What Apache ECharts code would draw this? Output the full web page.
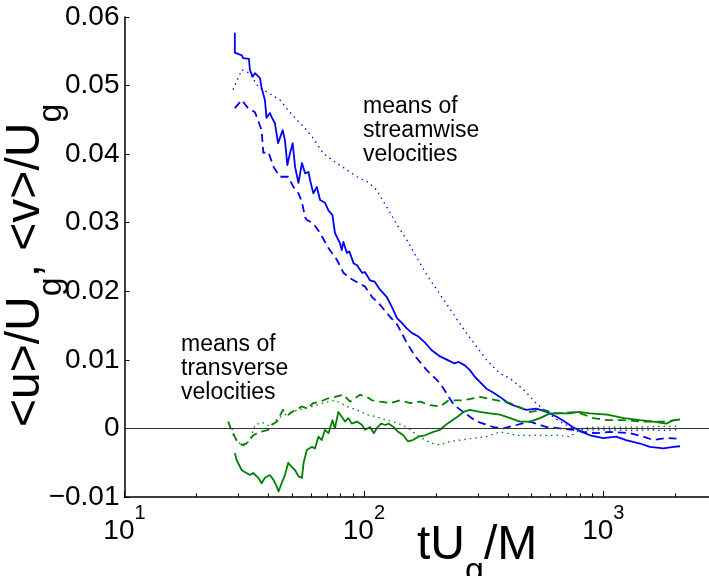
<!DOCTYPE html>
<html>
<head>
<meta charset="utf-8">
<script src="https://cdn.jsdelivr.net/npm/echarts@6/dist/echarts.min.js"></script>
<style>
  html, body { margin: 0; padding: 0; background: #fff; }
  #chart { width: 709px; height: 576px; }
</style>
</head>
<body>
<div id="chart"></div>
<script>
// Mean streamwise (blue) and transverse (green) velocities vs. tU_g/M
// solid / dashed / dotted = three runs

const tBlueSolid = [28.9,28.9,30.9,31.3,33.1,33.4,34.3,35.1,36.8,37.4,38.6,39.2,40.5,41.2,42.5,43.8,45.8,46.8,47.9,49.1,50.4,51.6,53.3,55.1,56.8,58.7,59.6,61.5,63.6,65.6,68.8,71.1,73.9,75.7,79.5,80.8,82.1,84.9,87.0,90.5,93.6,98.2,101,106,111,117,124.5,131,137.5,144,151,159,169,180,192,208,223,238,249,264,277,291,305,325,348,370,400,434,477,524,580,639,689,745,813,880,1000,1133,1245,1423,1567,1785,1963,2091];
const vBlueSolid = [0.0577,0.0548,0.0544,0.0540,0.0539,0.0523,0.0513,0.0518,0.0511,0.0496,0.0479,0.0453,0.0460,0.0454,0.0445,0.0416,0.0435,0.0420,0.0384,0.0401,0.0416,0.0381,0.0358,0.0387,0.0372,0.0374,0.0362,0.0343,0.0352,0.0333,0.0329,0.0318,0.0311,0.0285,0.0270,0.0260,0.0272,0.0256,0.0258,0.0241,0.0238,0.0227,0.0228,0.0216,0.0214,0.0202,0.0192,0.0177,0.0161,0.0154,0.0146,0.0139,0.0134,0.0125,0.0114,0.0105,0.0100,0.0095,0.0097,0.0092,0.0085,0.0075,0.0068,0.0058,0.0052,0.0046,0.0037,0.0032,0.0027,0.0029,0.0024,0.0017,0.0010,0.0002,-0.0005,-0.0010,-0.0014,-0.0012,-0.0017,-0.0022,-0.0027,-0.0029,-0.0027,-0.0026];

const tBlueDashed = [28.9,30.9,32.8,34.0,35.1,37.4,38.0,39.9,42.0,44.6,48.3,50.8,53.3,55.1,56.8,57.8,61.5,65.6,71.1,77.1,82.1,87.5,94.8,101,108,117,127,138,151,164,183,208,226,238,277,296,315,348,383,434,494,580,659,745,823,938,1067,1293,1470,1618,1835,2020];
const vBlueDashed = [0.0467,0.0479,0.0467,0.0464,0.0461,0.0435,0.0402,0.0403,0.0381,0.0367,0.0367,0.0352,0.0343,0.0330,0.0308,0.0304,0.0299,0.0285,0.0263,0.0246,0.0227,0.0219,0.0212,0.0207,0.0192,0.0180,0.0165,0.0151,0.0125,0.0105,0.0085,0.0066,0.0046,0.0034,0.0017,0.0010,0.0007,0.0002,0.0000,0.0005,0.0010,0.0002,0.0000,-0.0002,-0.0005,-0.0007,-0.0005,-0.0007,-0.0012,-0.0017,-0.0014,-0.0015];

const tBlueDotted = [28.4,29.4,30.9,33.4,36.2,39.2,44.6,48.3,52.4,56.0,61.5,67.7,74.0,84.9,93.6,103,113,124.5,137.5,151,167,183,202,223,246,268,296,325,370,408,466,524,599,659,726,823,938,1067,1180,1300,1567,1785,2020];
const vBlueDotted = [0.0494,0.0506,0.0523,0.0518,0.0498,0.0491,0.0479,0.0464,0.0450,0.0440,0.0423,0.0401,0.0391,0.0377,0.0367,0.0360,0.0348,0.0323,0.0297,0.0275,0.0248,0.0224,0.0202,0.0180,0.0158,0.0139,0.0119,0.0100,0.0080,0.0073,0.0056,0.0037,0.0020,0.0010,0.0002,-0.0002,-0.0002,-0.0002,-0.0002,-0.0003,-0.0002,-0.0003,-0.0002];

const tGreenSolid = [28.9,29.4,30.9,32.3,33.4,34.5,36.2,37.4,38.6,40.5,41.9,43.3,44.0,45.3,46.8,48.3,49.9,51.6,53.3,55.1,56.0,57.8,60.6,62.5,64.6,66.7,68.8,71.1,73.9,75.7,78.2,80.8,83.4,86.1,88.9,93.6,98.2,101,106,110,113,118,123,127,133,139,146,153,160,169,180,195,208,223,246,261,277,305,336,370,408,449,494,544,599,659,726,787,880,1038,1220,1423,1618,1835,1963,2091];
const vGreenSolid = [-0.0036,-0.0046,-0.0061,-0.0065,-0.0068,-0.0065,-0.0072,-0.0080,-0.0072,-0.0068,-0.0075,-0.0085,-0.0092,-0.0080,-0.0068,-0.0050,-0.0056,-0.0061,-0.0070,-0.0072,-0.0050,-0.0031,-0.0027,-0.0029,-0.0012,-0.0017,-0.0002,-0.0007,0.0012,0.0000,0.0024,0.0017,0.0010,0.0015,0.0007,0.0010,0.0005,-0.0002,0.0002,-0.0007,0.0000,0.0007,0.0005,0.0007,0.0002,-0.0005,-0.0010,-0.0019,-0.0017,-0.0012,-0.0010,-0.0005,-0.0002,0.0007,0.0017,0.0024,0.0027,0.0024,0.0022,0.0020,0.0015,0.0010,0.0010,0.0015,0.0022,0.0022,0.0022,0.0024,0.0022,0.0020,0.0015,0.0012,0.0010,0.0007,0.0012,0.0013];

const tGreenDashed = [27.1,28.1,29.4,30.9,32.3,34.5,36.8,39.9,41.2,43.3,45.9,48.3,51.6,55.1,57.8,61.5,65.6,71.1,75.7,82.1,87.5,96.3,103,108,117,129,142,156,172,189,208,226,261,305,360,408,494,561,639,773,908,1038,1220,1470,1785,2020];
const vGreenDashed = [0.0010,-0.0005,-0.0017,-0.0024,-0.0022,-0.0010,-0.0005,-0.0002,0.0005,0.0010,0.0027,0.0020,0.0027,0.0032,0.0029,0.0037,0.0039,0.0044,0.0046,0.0049,0.0039,0.0049,0.0046,0.0041,0.0039,0.0037,0.0041,0.0037,0.0039,0.0034,0.0032,0.0041,0.0041,0.0046,0.0041,0.0037,0.0024,0.0027,0.0022,0.0024,0.0015,0.0012,0.0012,0.0010,0.0010,0.0012];

const tGreenDotted = [28.1,29.2,31.3,33.4,35.1,37.6,40.5,43.8,48.2,53.1,59.6,67.0,75.7,84.9,93.6,103,113,124.5,137.5,151,167,189,208,229,277,325,370,434,524,639,726,823,969,1174,1423,1725,2040];
const vGreenDotted = [0.0000,-0.0017,-0.0026,-0.0017,0.0005,0.0009,0.0003,0.0015,0.0022,0.0027,0.0031,0.0037,0.0041,0.0032,0.0027,0.0020,0.0017,0.0012,0.0008,0.0002,-0.0010,-0.0021,-0.0024,-0.0019,-0.0015,-0.0012,-0.0005,-0.0010,-0.0010,-0.0010,-0.0012,0.0001,0.0002,0.0002,0.0002,0.0003,0.0003];

// axis ticks
const xMajorTicks = [10, 100, 1000];
const xMinorTicks = [20,30,40,50,60,70,80,90,200,300,400,500,600,700,800,900,2000];
const yTicks = [-0.01, 0, 0.01, 0.02, 0.03, 0.04, 0.05, 0.06];

const FONT = '"Liberation Sans", Arial, Helvetica, sans-serif';
const BLUE = '#0000ff';
const GREEN = '#008000';
const PLOT_H = 480;

function pairs(t, v) { return t.map((x, i) => [x, v[i]]); }

function lineSeries(name, t, v, color, dash, width) {
  return {
    name, type: 'line', data: pairs(t, v),
    showSymbol: false, symbol: 'none', smooth: false, silent: true,
    lineStyle: { color, width, type: dash, cap: 'butt', join: 'round' },
    animation: false, z: 3
  };
}

const chart = echarts.init(document.getElementById('chart'), null, { renderer: 'canvas' });

const series = [
  lineSeries('u solid', tBlueSolid, vBlueSolid, BLUE, 'solid', 1.8),
  lineSeries('u dashed', tBlueDashed, vBlueDashed, BLUE, [8, 5], 1.8),
  lineSeries('u dotted', tBlueDotted, vBlueDotted, BLUE, [1.5, 4], 1.3),
  lineSeries('v solid', tGreenSolid, vGreenSolid, GREEN, 'solid', 1.8),
  lineSeries('v dashed', tGreenDashed, vGreenDashed, GREEN, [8, 5], 1.8),
  lineSeries('v dotted', tGreenDotted, vGreenDotted, GREEN, [1.5, 4], 1.3)
];

// horizontal zero reference line
series[0].markLine = {
  silent: true, symbol: ['none', 'none'], animation: false,
  label: { show: false },
  lineStyle: { color: '#333', width: 1, type: 'solid' },
  data: [{ yAxis: 0 }]
};

// tick label "10" with the exponent raised
const supRich = {
  b: { fontFamily: FONT, fontSize: 28, color: '#000', lineHeight: 30, verticalAlign: 'bottom' },
  s: { fontFamily: FONT, fontSize: 20, color: '#000', lineHeight: 20, padding: [0, 0, 22, 0], verticalAlign: 'bottom' }
};

// axis titles: 48px body with a lowered "g"
const titleRich = {
  a: { fontFamily: FONT, fontSize: 48, color: '#000', lineHeight: 50, verticalAlign: 'top' },
  s: { fontFamily: FONT, fontSize: 34, color: '#000', lineHeight: 34, padding: [33, 0, 0, 0], verticalAlign: 'top' }
};

chart.setOption({
  animation: false,
  backgroundColor: '#fff',
  grid: { left: 124.5, right: 0, top: 17, bottom: 79, containLabel: false, outerBoundsMode: 'none' },
  xAxis: [
    {
      type: 'log', logBase: 10, min: 10, max: 2764, position: 'bottom',
      axisLine: { show: true, onZero: false, lineStyle: { color: '#000', width: 1.5 } },
      axisTick: { show: true, inside: true, length: 6, lineStyle: { color: '#000', width: 1 }, customValues: xMajorTicks },
      axisLabel: {
        show: true, margin: 18, customValues: xMajorTicks,
        formatter: v => '{b|10}{s|' + Math.round(Math.log10(v)) + '}',
        rich: supRich
      },
      splitLine: { show: false }, minorTick: { show: false }
    },
    {
      // minor ticks: a second log axis moved down onto the bottom edge, ticks pointing up
      type: 'log', logBase: 10, min: 10, max: 2764, position: 'top', offset: -PLOT_H,
      axisLine: { show: false, onZero: false },
      axisTick: { show: true, inside: false, length: 3.5, lineStyle: { color: '#000', width: 1 }, customValues: xMinorTicks },
      axisLabel: { show: false },
      splitLine: { show: false }
    }
  ],
  yAxis: {
    type: 'value', min: -0.01, max: 0.06, interval: 0.01,
    axisLine: { show: true, onZero: false, lineStyle: { color: '#000', width: 1.5 } },
    axisTick: { show: true, inside: true, length: 5, lineStyle: { color: '#000', width: 1 } },
    axisLabel: {
      show: true, margin: 5, color: '#000', fontFamily: FONT, fontSize: 28,
      customValues: yTicks,
      formatter: v => {
        const r = Math.round(v * 100) / 100;
        if (r === 0) return '0';
        if (r < 0) return '\u2212' + Math.abs(r).toFixed(2);
        return r.toFixed(2);
      }
    },
    splitLine: { show: false }
  },
  series,
  graphic: [
    {
      type: 'text', left: 363, top: 95, silent: true,
      style: { text: 'means of\nstreamwise\nvelocities', font: '23px ' + FONT, fill: '#000', lineHeight: 24 }
    },
    {
      type: 'text', left: 181, top: 333, silent: true,
      style: { text: 'means of\ntransverse\nvelocities', font: '23px ' + FONT, fill: '#000', lineHeight: 24 }
    },
    {
      type: 'text', left: 417, top: 522, silent: true,
      style: { text: '{a|tU}{s|g}{a|/M}', rich: titleRich }
    },
    {
      type: 'text', x: 2, y: 427, rotation: Math.PI / 2, silent: true,
      style: { text: '{a|<u>/U}{s|g}{a|, <v>/U}{s|g}', rich: titleRich }
    }
  ]
});
</script>
</body>
</html>
